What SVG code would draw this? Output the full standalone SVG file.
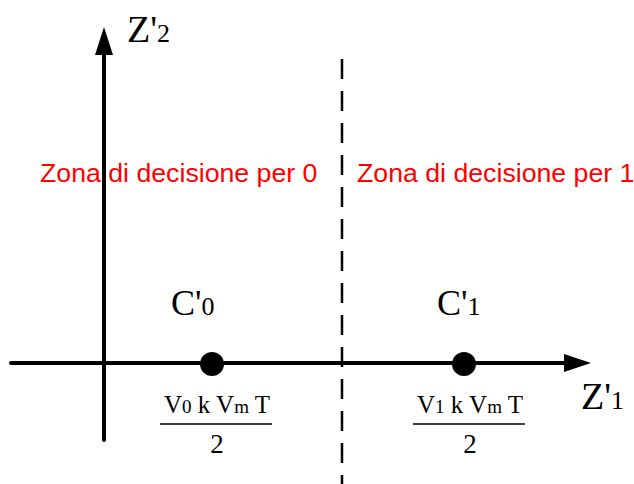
<svg xmlns="http://www.w3.org/2000/svg" width="634" height="484" viewBox="0 0 634 484">
<style>
.ax{stroke:#000;stroke-width:4;stroke-linecap:round;fill:none}
.dash{stroke:#000;stroke-width:2.5;stroke-dasharray:20 12;fill:none}
.lbl{font-family:"Liberation Serif",serif;fill:#000}
.red{font-family:"Liberation Sans",Arial,sans-serif;fill:#ff0000;font-size:26.7px}
.frac{stroke:#000;stroke-width:1.5}
</style>
<rect width="634" height="484" fill="#fff"/>
<g id="connectors">
<line class="ax" x1="104" y1="440" x2="104" y2="50"/>
<polygon points="104,27 95,55 113,55" fill="#000"/>
<line class="ax" x1="11" y1="363" x2="570" y2="363"/>
<polygon points="591,363 564,354 564,372" fill="#000"/>
<line class="dash" x1="342" y1="59" x2="342" y2="484"/>
</g>
<g id="axis-z2"><text class="lbl" x="127" y="42" font-size="38">Z'<tspan font-size="26">2</tspan></text></g>
<g id="axis-z1"><text class="lbl" x="581" y="409" font-size="38">Z'<tspan font-size="26">1</tspan></text></g>
<g id="zone0"><text class="red" x="40" y="182">Zona di decisione per 0</text></g>
<g id="zone1"><text class="red" x="357" y="182">Zona di decisione per 1</text></g>
<g id="c0">
<circle cx="212" cy="364" r="12" fill="#000"/>
<text class="lbl" x="171" y="315" font-size="36">C'<tspan font-size="26">0</tspan></text>
<text class="lbl" x="217" y="413" font-size="25" text-anchor="middle">V<tspan font-size="19">0</tspan> k V<tspan font-size="19">m</tspan> T</text>
<line class="frac" x1="160" y1="424" x2="272" y2="424"/>
<text class="lbl" x="217" y="453" font-size="27" text-anchor="middle">2</text>
</g>
<g id="c1">
<circle cx="464" cy="364" r="12" fill="#000"/>
<text class="lbl" x="437" y="315" font-size="36">C'<tspan font-size="26">1</tspan></text>
<text class="lbl" x="470" y="413" font-size="25" text-anchor="middle">V<tspan font-size="19">1</tspan> k V<tspan font-size="19">m</tspan> T</text>
<line class="frac" x1="413" y1="424" x2="525" y2="424"/>
<text class="lbl" x="470" y="453" font-size="27" text-anchor="middle">2</text>
</g>
</svg>
